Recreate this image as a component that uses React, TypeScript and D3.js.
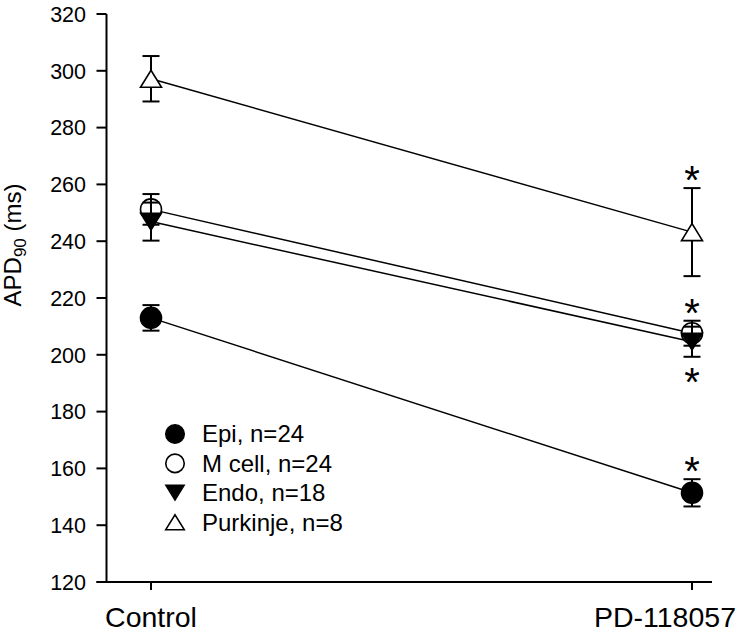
import React from "react";
import * as d3 from "d3";

const categories = ["Control", "PD-118057"];
const seriesNames = ["Epi, n=24", "M cell, n=24", "Endo, n=18", "Purkinje, n=8"];
const epiMean = [213, 151.4];
const epiErr = [4.5, 4.8];
const mcellMean = [251.2, 207.6];
const mcellErr = [5.4, 4.4];
const endoMean = [246.9, 204.6];
const endoErr = [6.7, 5.3];
const purkMean = [297.2, 243.2];
const purkErr = [8, 15.5];
// significance markers at PD-118057: direction of asterisk relative to error bar (1 = above, -1 = below)
const sigSide = [1, 1, -1, 1];
const yTicks = [120, 140, 160, 180, 200, 220, 240, 260, 280, 300, 320];

const W = 750;
const H = 635;
const FONT = "'Liberation Sans', Arial, Helvetica, sans-serif";

type Marker = "circleFilled" | "circleOpen" | "triDownFilled" | "triUpOpen";
const markers: Marker[] = ["circleFilled", "circleOpen", "triDownFilled", "triUpOpen"];
const barsOnTop = [true, true, true, false];

function markerEl(m: Marker, cx: number, cy: number, s: number, key: string) {
  const r = 10.5 * s;
  const tw = 21 * s;
  const th = 17 * s;
  if (m === "circleFilled" || m === "circleOpen") {
    return (
      <circle
        key={key}
        cx={cx}
        cy={cy}
        r={r}
        fill={m === "circleFilled" ? "#000" : "#fff"}
        stroke="#000"
        strokeWidth={1.6}
      />
    );
  }
  if (m === "triDownFilled") {
    const p = `M${cx - tw / 2},${cy - th / 2}L${cx + tw / 2},${cy - th / 2}L${cx},${cy + th / 2}Z`;
    return <path key={key} d={p} fill="#000" stroke="#000" strokeWidth={1.4} />;
  }
  const p = `M${cx - tw / 2},${cy + th / 2}L${cx + tw / 2},${cy + th / 2}L${cx},${cy - th / 2}Z`;
  return <path key={key} d={p} fill="#fff" stroke="#000" strokeWidth={1.6} />;
}

export default function App() {
  const y = d3.scaleLinear().domain([120, 320]).range([582, 14]);
  const x = d3.scalePoint<string>().domain(categories).range([151, 692]);
  const axisX0 = 106.5;
  const axisX1 = 712;
  const axisY = y(120);

  const means = [epiMean, mcellMean, endoMean, purkMean];
  const errs = [epiErr, mcellErr, endoErr, purkErr];
  const line = d3
    .line<number>()
    .x((_, i) => x(categories[i]) as number)
    .y((d) => y(d));

  const cap = 8.5;

  return (
    <svg width={W} height={H} style={{ position: "absolute", left: 0, top: 0, background: "#fff" }} fontFamily={FONT}>
      <rect x={0} y={0} width={W} height={H} fill="#fff" />
      {/* axes */}
      <line x1={axisX0} x2={axisX0} y1={y(320)} y2={axisY} stroke="#000" strokeWidth={2} />
      <line x1={axisX0 - 10} x2={axisX1} y1={axisY} y2={axisY} stroke="#000" strokeWidth={2} />
      {yTicks.map((t) => (
        <g key={t}>
          <line x1={axisX0 - 10} x2={axisX0} y1={y(t)} y2={y(t)} stroke="#000" strokeWidth={2} />
          <text x={86} y={y(t)} dy="0.36em" textAnchor="end" fontSize={21.5}>
            {t}
          </text>
        </g>
      ))}
      {categories.map((c, i) => {
        const cx = x(c) as number;
        const last = i === categories.length - 1;
        return (
          <g key={c}>
            <line x1={cx} x2={cx} y1={axisY} y2={axisY + 8} stroke="#000" strokeWidth={2} />
            <text
              x={last ? W - 14 : cx}
              y={627}
              textAnchor={last ? "end" : "middle"}
              fontSize={28.5}
            >
              {c}
            </text>
          </g>
        );
      })}
      {/* y title */}
      <text transform={`translate(21,245) rotate(-90)`} textAnchor="middle" fontSize={24}>
        APD
        <tspan fontSize={17} dy={4.5}>
          90
        </tspan>
        <tspan dy={-4.5}> (ms)</tspan>
      </text>
      {/* connecting lines */}
      {means.map((m, i) => (
        <path key={"l" + i} d={line(m) || ""} fill="none" stroke="#000" strokeWidth={1.5} />
      ))}
      {/* series */}
      {means.map((m, si) => {
        const bars = m.map((v, ci) => {
          const cx = x(categories[ci]) as number;
          const e = errs[si][ci];
          return (
            <g key={"e" + si + ci} stroke="#000" strokeWidth={2}>
              <line x1={cx} x2={cx} y1={y(v + e)} y2={y(v - e)} />
              <line x1={cx - cap} x2={cx + cap} y1={y(v + e)} y2={y(v + e)} />
              <line x1={cx - cap} x2={cx + cap} y1={y(v - e)} y2={y(v - e)} />
            </g>
          );
        });
        const mk = m.map((v, ci) => markerEl(markers[si], x(categories[ci]) as number, y(v), 1, "m" + si + ci));
        return <g key={"s" + si}>{barsOnTop[si] ? [mk, bars] : [bars, mk]}</g>;
      })}
      {/* asterisks */}
      {means.map((m, si) => {
        const ci = 1;
        const cx = x(categories[ci]) as number;
        const v = m[ci];
        const e = errs[si][ci];
        const capY = sigSide[si] > 0 ? y(v + e) : y(v - e);
        const cy = capY - sigSide[si] * 16.5;
        return (
          <text key={"a" + si} x={cx} y={cy + 0.56 * 40} textAnchor="middle" fontSize={40}>
            *
          </text>
        );
      })}
      {/* legend */}
      {seriesNames.map((n, i) => {
        const ly = 434 + i * 29.4;
        return (
          <g key={"lg" + i}>
            {markerEl(markers[i], 175, ly, 0.88, "lm" + i)}
            <text x={202} y={ly} dy="0.35em" fontSize={24}>
              {n}
            </text>
          </g>
        );
      })}
    </svg>
  );
}
